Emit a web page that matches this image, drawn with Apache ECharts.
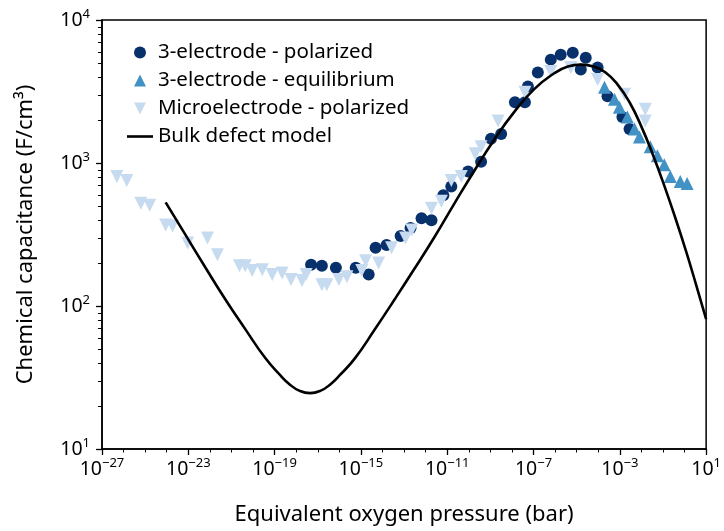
<!DOCTYPE html>
<html><head><meta charset="utf-8">
<script src="https://cdn.jsdelivr.net/npm/echarts@6/dist/echarts.min.js"></script>
<style>html,body{margin:0;padding:0;background:#fff}#c{width:724px;height:531px}</style>
</head><body><div id="c"></div><script>
const FONT = 'Noto Sans';

// x values are log10 of the equivalent oxygen pressure (bar); y values are capacitance in F/cm^3
const microP = [-26.31,-25.85,-25.20,-24.79,-24.05,-23.73,-23.03,-22.11,-21.65,-20.63,-20.36,-20.04,-19.57,-19.11,-18.65,-18.24,-17.73,-17.54,-16.81,-16.58,-16.02,-15.65,-14.96,-14.78,-14.18,-13.58,-12.93,-12.65,-11.73,-11.27,-10.81,-10.35,-9.70,-9.43,-8.64,-7.40,-6.20,-5.27,-4.03,-2.78,-1.82,-1.82];
const microC = [804,755,523,506,368,362,276,299,228,191,191,177,179,166,170,153,151,166,141,141,153,160,177,207,200,255,299,340,483,540,755,804,1161,1298,1965,3121,4363,4650,3840,3021,2379,1965];

const polP = [-17.31,-16.81,-16.16,-15.24,-14.64,-14.32,-13.81,-13.16,-12.70,-12.19,-11.73,-11.18,-10.81,-10.03,-9.43,-8.97,-8.50,-7.86,-7.40,-7.26,-6.80,-6.20,-5.74,-5.18,-4.81,-4.58,-4.03,-3.57,-2.88,-2.55];
const polC = [194,191,185,185,166,255,267,309,351,411,398,594,686,871,1021,1475,1597,2660,2660,3434,4294,5283,5722,5906,4504,5453,4650,2928,2095,1729];

const eqP = [-3.71,-3.25,-3.02,-2.65,-2.32,-2.09,-1.59,-1.26,-0.94,-0.66,-0.20,0.12];
const eqC = [3380,2791,2457,2095,1729,1522,1298,1124,973,804,743,719];

const modelP = [-24.05,-23.13,-22.20,-21.28,-20.36,-19.44,-18.74,-18.30,-17.86,-17.36,-16.86,-16.42,-15.98,-15.28,-14.36,-13.44,-12.52,-11.59,-10.67,-9.75,-8.83,-7.90,-6.98,-6.06,-5.41,-4.81,-4.21,-3.66,-3.11,-2.55,-2.00,-1.45,-0.94,-0.43,0.08,0.54,1.00];
const modelC = [531,314,185,111,68.9,43.4,32.8,28.3,25.6,24.6,25.6,28.3,32.8,43,68.5,111,182,304,520,880,1450,2268,3273,4225,4725,4877,4725,4294,3545,2660,1797,1124,695,414,239,140,81];

const yMinorTicks = [20,30,40,50,60,70,80,90,200,300,400,500,600,700,800,900,2000,3000,4000,5000,6000,7000,8000,9000];

const names = ['3-electrode - polarized','3-electrode - equilibrium','Microelectrode - polarized','Bulk defect model'];

const pts = (P, C) => P.map((p, i) => [p, Math.log10(C[i])]);
const expLabel = v => '{a|10}{s|' + String(Math.round(v)).replace('-', '\u2212') + '}';
const rich = {
  a: {fontSize: 19.5, fontFamily: FONT, color: '#000', lineHeight: 24},
  s: {fontSize: 13, fontFamily: FONT, color: '#000', lineHeight: 13, verticalAlign: 'top'}
};
const DOWN = 'path://M0,0L2,0L1,2Z';
const UP = 'path://M1,0L2,2L0,2Z';
const X_MIN = -27, X_MAX = 1;

const chart = echarts.init(document.getElementById('c'), null, {renderer: 'canvas'});
chart.setOption({
  animation: false,
  backgroundColor: '#fff',
  grid: {left: 102, right: 15, top: 20, bottom: 78, show: true, borderColor: '#000', borderWidth: 1.5, backgroundColor: 'transparent'},
  legend: {
    orient: 'vertical', left: 122, top: 37, itemWidth: 26, itemHeight: 12, itemGap: 7,
    symbolKeepAspect: true,
    textStyle: {fontSize: 20.5, fontFamily: FONT, color: '#000', lineHeight: 20},
    data: [
      {name: names[0], icon: 'circle'},
      {name: names[1], icon: UP},
      {name: names[2], icon: DOWN},
      {name: names[3], icon: 'path://M0,0L26,0L26,2.6L0,2.6Z'}
    ]
  },
  xAxis: {
    type: 'value', min: X_MIN, max: X_MAX, interval: 4,
    axisLine: {show: true, onZero: false, lineStyle: {color: '#000', width: 1.5}},
    axisTick: {show: true, length: 6, lineStyle: {color: '#000', width: 1.3}},
    minorTick: {show: true, splitNumber: 4, length: 3.5, lineStyle: {color: '#000', width: 1}},
    splitLine: {show: false},
    axisLabel: {margin: 8, formatter: expLabel, rich: rich, showMaxLabel: true, showMinLabel: true},
    name: 'Equivalent oxygen pressure (bar)', nameLocation: 'middle', nameGap: 55,
    nameTextStyle: {fontSize: 22, fontFamily: FONT, color: '#000'}
  },
  yAxis: {
    type: 'value', min: 1, max: 4, interval: 1,
    axisLine: {show: true, onZero: false, lineStyle: {color: '#000', width: 1.5}},
    axisTick: {show: true, length: 6, lineStyle: {color: '#000', width: 1.3}},
    splitLine: {show: false},
    axisLabel: {margin: 12, formatter: expLabel, rich: rich},
    name: 'Chemical capacitance (F/cm\u00b3)', nameLocation: 'middle', nameGap: 65,
    nameTextStyle: {fontSize: 22, fontFamily: FONT, color: '#000'}
  },
  series: [
    {type: 'custom', silent: true, clip: false, z: 6,
     data: yMinorTicks.map(v => [X_MIN, Math.log10(v)]),
     renderItem: (params, api) => {
       const p = api.coord([api.value(0), api.value(1)]);
       const y = Math.round(p[1]) + 0.5;
       return {type: 'line', shape: {x1: p[0] - 4, y1: y, x2: p[0], y2: y},
               style: {stroke: '#000', lineWidth: 1}};
     }},
    {name: names[0], type: 'scatter', symbol: 'circle', symbolSize: 12, data: pts(polP, polC),
     itemStyle: {color: '#08306b', opacity: 1}, z: 2},
    {name: names[1], type: 'scatter', symbol: UP, symbolSize: 13, data: pts(eqP, eqC),
     itemStyle: {color: '#4292c6', opacity: 1}, z: 3},
    {name: names[2], type: 'scatter', symbol: DOWN, symbolSize: 13, data: pts(microP, microC),
     itemStyle: {color: '#c6dbef', opacity: 1}, z: 4},
    {name: names[3], type: 'line', smooth: 0.5, symbol: 'none', data: pts(modelP, modelC),
     lineStyle: {color: '#000', width: 2.6}, itemStyle: {color: '#000'}, z: 5}
  ]
});
</script></body></html>
